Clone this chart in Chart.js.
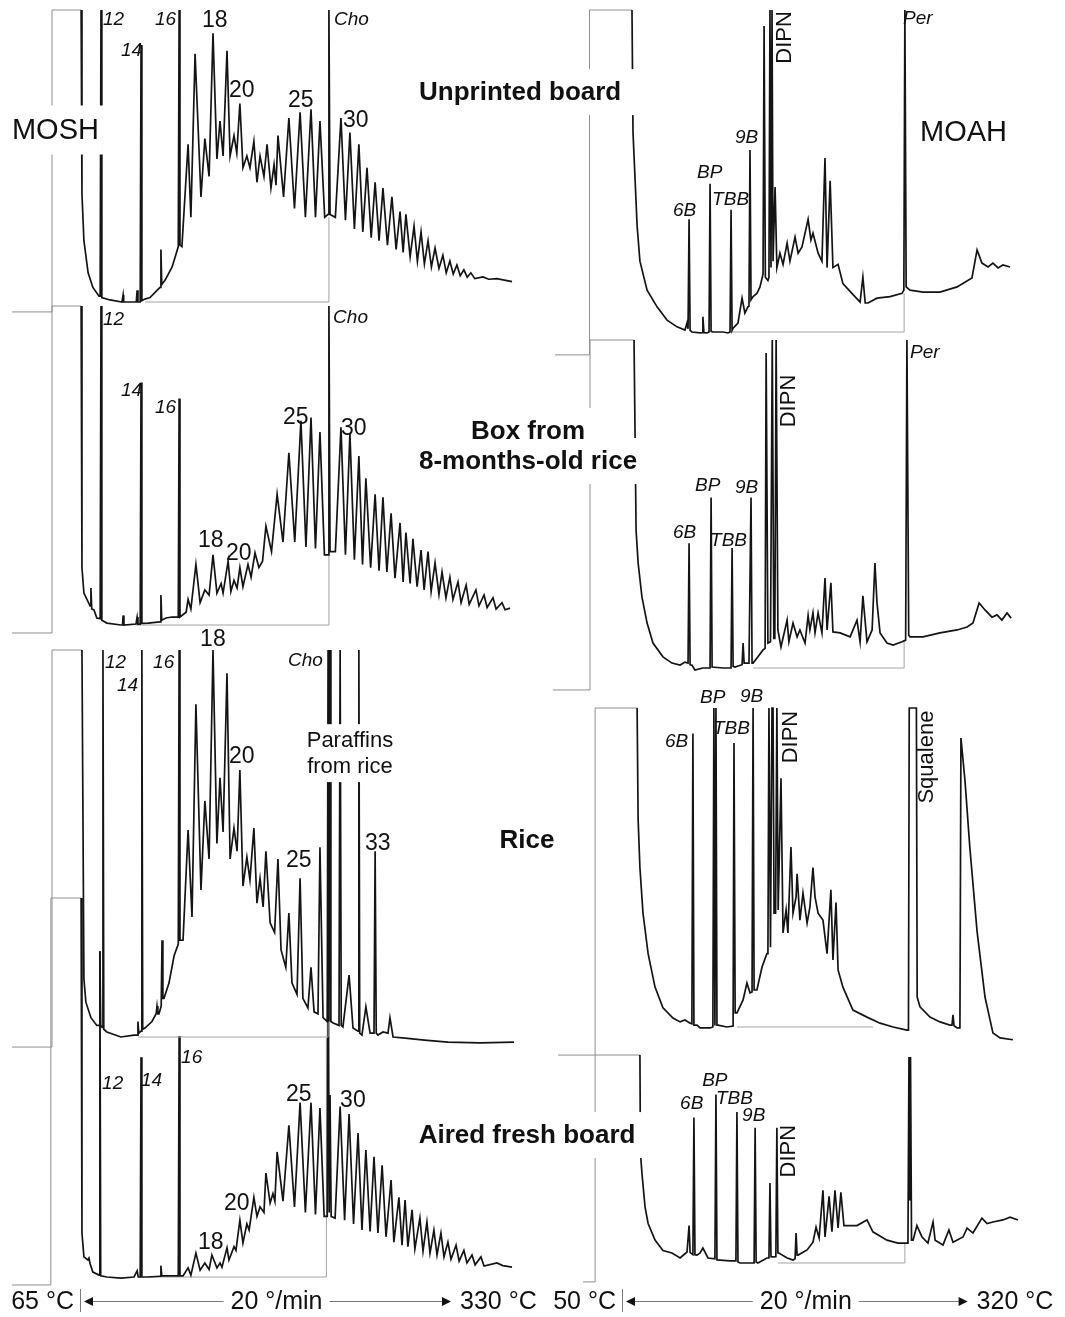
<!DOCTYPE html>
<html>
<head>
<meta charset="utf-8">
<title>MOSH / MOAH chromatograms</title>
<script src="https://cdn.jsdelivr.net/npm/chart.js@4.4.1/dist/chart.umd.min.js"></script>
<style>
  html, body { margin: 0; padding: 0; background: #fff; }
  #wrap { position: relative; width: 1065px; height: 1317px; overflow: hidden; }
  canvas { display: block; }
</style>
</head>
<body>
<div id="wrap"><canvas id="gc" width="1065" height="1317"></canvas></div>
<script>
// ---- traces: [retention time (min), signal (% of full scale)] ----
// MOSH, left column
const moshUnprinted = [[-2.43,-3.4],[-1.0,-3.4],[-1.0,100],[0.04,100],
  [0.07,37],[0.14,21],[0.29,10],[0.46,5],[0.68,2],[0.72,2],[0.75,100],[0.78,1.5],
  [1.07,0.7],[1.5,0],[1.52,0],[1.54,2.4],[1.56,0],[1.96,0],[2.01,0],[2.04,4],[2.07,0],
  [2.15,0],[2.18,88],[2.21,0.5],[2.32,1],[2.5,1.5],[2.75,4],[2.86,5],[2.89,18],[2.92,6],
  [3.04,7.5],[3.29,12],[3.45,17],[3.51,19],[3.54,100],[3.57,19.5],[3.64,19],
  [3.86,54],[3.96,29],[4.11,85],[4.32,36],[4.46,56],[4.61,43],[4.75,92],[4.89,49],
  [5.0,62],[5.11,50],[5.25,86],[5.36,50],[5.5,57],[5.6,51],[5.71,68],[5.82,46],
  [5.96,50],[6.07,46],[6.21,55],[6.32,41],[6.43,50],[6.57,43],[6.68,54],[6.82,39],
  [6.93,47],[7.0,40],[7.07,57],[7.27,36],[7.46,63],[7.66,32],[7.86,65],[8.05,29],
  [8.25,66],[8.41,29],[8.57,62],[8.74,29],[8.86,30],[8.89,100],[8.93,30],[9.12,29],
  [9.32,63],[9.48,28],[9.64,58],[9.8,25],[9.96,54],[10.1,24],[10.25,46],[10.4,22],
  [10.54,41],[10.68,21],[10.82,39],[10.98,19.5],[11.14,36],[11.29,18],[11.43,31],[11.54,17],
  [11.64,30],[11.79,15.5],[11.93,26],[12.05,14],[12.18,24],[12.3,13],[12.43,21],[12.55,12],
  [12.68,18.5],[12.82,11.5],[12.96,16],[13.08,10],[13.21,14],[13.33,9.6],[13.46,12.7],[13.58,9],
  [13.71,11],[13.83,8.5],[13.96,10],[14.1,8],[14.39,8.6],[14.6,7.8],[14.89,8],[15.2,7.4],[15.43,7]];

const moshRiceBox = [[-2.43,-2.5],[-1.0,-2.5],[-1.0,100],[0.04,100],
  [0.07,18],[0.14,10],[0.36,6],[0.39,11.6],[0.42,5],[0.5,4.7],[0.6,2.2],
  [0.72,2],[0.75,100],[0.78,1.5],[0.96,0.6],[1.46,0],[1.52,0],[1.54,3],[1.57,0],
  [2.0,0.3],[2.04,2.5],[2.07,0.3],[2.15,0.3],[2.18,76],[2.21,0.5],
  [2.43,0.6],[2.86,1],[2.89,9.4],[2.92,1.5],[3.07,2.2],[3.29,2.5],[3.51,2.5],[3.54,71],[3.57,2.5],
  [3.79,4],[3.86,8],[3.96,5],[4.14,19],[4.29,7],[4.46,11],[4.61,9.4],[4.75,22],[4.89,10],
  [5.04,13],[5.11,10],[5.29,20],[5.39,10.5],[5.5,14],[5.61,11.6],[5.71,18],[5.82,12],
  [6.0,19],[6.11,15],[6.25,22.6],[6.39,18],[6.52,20],[6.64,31],[6.84,23],[7.04,41],
  [7.25,26],[7.46,54],[7.67,26],[7.89,64],[8.07,24.5],[8.25,65],[8.41,24],[8.57,60.5],
  [8.73,22],[8.86,22],[8.89,100],[8.93,23],[9.12,23],[9.32,62],[9.48,22],[9.64,60],
  [9.8,20.5],[9.96,53],[10.09,19],[10.21,46],[10.38,18],[10.54,41],[10.68,17],[10.82,40],
  [10.96,16.6],[11.11,35],[11.25,14.7],[11.43,32],[11.54,13.5],[11.64,29],[11.79,13],[11.89,27],
  [12.04,12],[12.18,23.5],[12.29,11],[12.43,23],[12.54,10.5],[12.68,19.5],[12.82,9.5],[12.93,16.6],
  [13.07,8.5],[13.21,15],[13.32,8],[13.5,13.5],[13.61,7],[13.79,12.5],[13.9,6.5],[14.14,11],
  [14.25,6],[14.43,9.4],[14.54,5.5],[14.75,8.5],[14.86,5],[15.07,7],[15.18,4.8],[15.36,5.3]];

const moshRice = [[-2.43,-2.6],[-1.0,-2.6],[-1.0,100],[0.07,100],
  [0.14,15],[0.21,9],[0.39,5],[0.6,3],[0.68,3],[0.71,22],[0.74,3],
  [0.79,2.5],[0.82,100],[0.85,2],[0.96,1.3],[1.46,0],[1.93,0.5],[2.04,0.5],[2.07,4],[2.1,1],
  [2.18,1.5],[2.21,100],[2.24,2],[2.32,2.3],[2.57,4],[2.72,6],[2.75,8],[2.78,6],[2.82,6],
  [2.9,8],[2.93,25],[2.96,10],[3.0,10],[3.18,14],[3.36,21],[3.51,24],[3.54,100],[3.57,25],
  [3.68,25],[3.86,53.5],[4.0,31],[4.14,86],[4.32,38],[4.46,61],[4.61,46],[4.75,100],[4.89,50],
  [5.0,67],[5.11,53],[5.25,94],[5.36,46],[5.5,54],[5.61,48],[5.71,69],[5.82,39],
  [5.96,46.5],[6.07,40.6],[6.21,54],[6.32,34.6],[6.43,41],[6.54,33.6],[6.64,48],[6.79,29.5],
  [6.95,27],[7.07,46],[7.18,22.5],[7.35,18],[7.46,32],[7.57,14],[7.75,11],[7.86,41],
  [7.96,10],[8.14,7.5],[8.25,18],[8.36,6.5],[8.5,6],[8.57,49],[8.68,5],[8.83,4],
  [8.86,100],[8.89,4],[8.93,100],[8.96,4],[9.04,3.6],[9.25,3],[9.29,100],[9.33,3],[9.39,2.6],
  [9.61,16],[9.75,2.3],[9.93,1.5],[9.96,100],[9.99,1],[10.07,0.5],[10.21,7.8],[10.36,1],
  [10.5,1],[10.54,48],[10.58,1],[10.64,0.5],[10.82,1.3],[11.0,1],[11.07,5],[11.18,0],
  [11.61,-0.3],[12.3,-0.8],[13.14,-1.3],[14.3,-1.5],[15.5,-1.3]];

const moshAired = [[-2.43,-2.1],[-1.04,-2.1],[-1.04,100],[0.04,100],
  [0.07,11.6],[0.14,5.3],[0.28,4.5],[0.32,5],[0.36,3.5],[0.46,1.3],[0.68,0.5],[0.71,86],[0.74,0.3],
  [0.96,0],[1.46,-0.3],[1.93,0],[2.04,1.6],[2.08,0],[2.15,0],[2.18,58],[2.21,0],
  [2.43,0],[2.86,0.2],[2.89,3],[2.92,0.3],[3.18,0.3],[3.51,0.3],[3.54,63.6],[3.57,0.3],
  [3.68,0.3],[3.86,2.4],[3.96,0.5],[4.14,6.3],[4.29,1.8],[4.46,3.7],[4.61,2],[4.71,5.8],
  [4.89,2.4],[5.0,3.7],[5.07,2.6],[5.25,7.7],[5.32,4.5],[5.5,8],[5.57,7],[5.71,15],
  [5.82,9],[5.96,14],[6.04,12.4],[6.21,21],[6.32,16],[6.43,18.5],[6.57,17],[6.64,27.4],
  [6.79,19.5],[6.89,22],[6.96,20],[7.04,33],[7.25,20],[7.46,40],[7.66,18.5],[7.86,46],
  [8.05,17],[8.25,46],[8.41,16.5],[8.57,44.6],[8.72,16],[8.83,16],[8.86,100],[8.9,17],
  [8.93,48],[8.97,16],[9.11,15.5],[9.29,45],[9.45,15],[9.61,43],[9.77,14],[9.93,38],
  [10.07,12.4],[10.21,33.5],[10.36,12],[10.5,31.7],[10.64,11.6],[10.79,29.5],[10.93,10.6],[11.11,25.6],
  [11.21,9.2],[11.39,21],[11.5,8.4],[11.61,20.3],[11.71,8],[11.86,17.7],[11.96,7.4],[12.14,15.6],
  [12.25,6.8],[12.39,14.5],[12.5,6.3],[12.64,12.4],[12.75,5.8],[12.89,11.6],[13.0,5.3],[13.14,9.2],
  [13.25,4.7],[13.43,8.4],[13.54,4.2],[13.71,7],[13.82,3.7],[14.0,5.8],[14.11,3.2],[14.32,5.3],
  [14.43,2.9],[14.89,3.7],[15.1,3],[15.43,2.6]];

// MOAH, right column
const moahUnprinted = [[-2.62,-7.1],[-1.27,-7.1],[-1.27,100],[0.39,100],
  [0.43,62],[0.59,33],[0.7,22],[0.98,13],[1.37,7.8],[1.76,3.7],[2.15,1.6],[2.46,0.6],[2.54,2.8],[2.58,1],
  [2.62,35],[2.66,0.5],[2.73,0],[3.05,-0.3],[3.13,-0.2],[3.16,4.7],[3.2,-0.2],[3.32,-0.3],[3.4,0],
  [3.44,46],[3.48,0.2],[3.55,0],[3.95,0],[4.14,-0.3],[4.22,0],[4.26,38],[4.3,0.5],
  [4.34,1.2],[4.53,2.8],[4.69,10.5],[4.8,5.9],[4.92,7.8],[4.96,8],[5.0,56.5],[5.04,10],
  [5.12,11],[5.27,12],[5.39,14],[5.51,18],[5.55,95],[5.6,17],[5.7,16],[5.74,17],[5.78,100],
  [5.82,20],[5.86,100],[5.9,22],[5.98,45],[6.05,20],[6.17,24.5],[6.29,21],[6.45,27.6],
  [6.56,22],[6.76,29.5],[6.88,24.5],[7.03,26.4],[7.27,35],[7.38,28.6],[7.46,30.7],[7.66,24.5],
  [7.81,22],[7.93,54],[8.01,20],[8.13,47],[8.24,20],[8.44,21],[8.63,15],[8.98,12],
  [9.3,9.3],[9.41,17],[9.5,9],[9.61,9],[9.96,10.5],[10.47,11],[10.94,12],[11.01,13],
  [11.05,100],[11.1,14],[11.25,13],[11.76,12.4],[12.42,12.4],[13.09,14],[13.67,16.8],[13.87,25.5],
  [14.06,21.4],[14.3,20.2],[14.49,21.4],[14.69,19.9],[14.88,20.8],[15.16,20.2]];

const moahRiceBox = [[-2.7,-6.7],[-1.25,-6.7],[-1.25,100],[0.47,100],
  [0.55,42],[0.63,32],[0.78,21.6],[0.98,13.7],[1.21,7.6],[1.6,3.4],[1.95,1.5],[2.27,0.9],[2.46,1.8],[2.58,1.5],
  [2.62,38],[2.66,1],[2.73,0.9],[2.85,-0.6],[3.16,0],[3.44,0],[3.48,52],[3.52,0.3],
  [3.55,0.3],[3.95,0],[4.26,0],[4.3,36.6],[4.34,0.5],[4.41,0.3],[4.69,1],[4.73,7.6],[4.77,1.5],
  [4.96,1.5],[5.04,52],[5.08,1.5],[5.12,1.5],[5.31,3.4],[5.51,5.5],[5.59,6],[5.63,96],[5.7,7.6],
  [5.8,8],[5.87,100],[5.93,9],[5.97,9],[6.02,100],[6.09,11.6],[6.21,6.4],[6.45,14.6],
  [6.52,8],[6.68,13.7],[6.84,9.5],[6.95,11.6],[7.15,7.6],[7.27,16],[7.34,11.6],[7.46,16.8],
  [7.54,10.7],[7.66,16.8],[7.81,10.7],[7.93,27.4],[8.01,11.6],[8.16,26],[8.24,11],[8.52,10.7],
  [8.91,9.5],[9.18,14.6],[9.3,8],[9.41,22],[9.57,8],[9.77,11.6],[9.88,32],[9.96,20],
  [10.08,10.7],[10.35,7.6],[10.59,7],[10.94,8],[11.08,8.5],[11.13,100],[11.2,10],
  [11.25,9.5],[11.76,9.5],[12.42,10.7],[13.09,11.6],[13.48,12.5],[13.71,13.7],[13.95,19.8],
  [14.18,17.7],[14.45,15.5],[14.65,16.2],[14.84,14.6],[15.04,16.8],[15.2,15.2]];

const moahRice = [[-2.5,-8.8],[-1.05,-8.8],[-1.05,100],[0.59,100],
  [0.63,65],[0.7,50],[0.82,35.7],[1.02,23],[1.29,12.5],[1.6,6],[1.99,2.8],[2.27,1.6],[2.46,2.2],
  [2.66,1.2],[2.73,1],[2.77,92],[2.81,0.6],[2.93,0.6],[3.05,-0.3],[3.44,-0.3],[3.55,0],
  [3.59,100],[3.63,0.5],[3.67,100],[3.71,0.6],[3.75,0.6],[4.1,0],[4.34,0.3],[4.375,89],[4.42,4.4],
  [4.49,4.4],[4.73,8.5],[4.88,13.8],[5.0,10.7],[5.08,11],[5.12,100],[5.16,11.6],
  [5.27,11.6],[5.47,18.8],[5.66,23],[5.7,23],[5.74,100],[5.8,25],[5.86,100],[5.9,100],
  [5.94,35.7],[6.0,35.7],[6.05,100],[6.1,36.7],[6.21,78],[6.29,29.5],[6.41,36.7],[6.48,29.5],
  [6.6,56.4],[6.68,35.7],[6.8,40.8],[6.84,48],[6.95,33.5],[7.07,42],[7.23,32.6],[7.34,37.6],
  [7.46,50],[7.54,40.8],[7.66,35.7],[7.85,33.5],[8.01,23],[8.16,43],[8.24,21],[8.36,39],
  [8.44,17.9],[8.63,12.5],[9.02,5.3],[9.57,3.1],[10.08,1.2],[10.59,0],[11.13,-1],[11.19,-1],
  [11.22,100],[11.5,100],[11.53,9.4],[11.64,6.3],[12.03,3.1],[12.42,1.6],[12.81,0.6],
  [12.89,0.6],[12.93,3.8],[12.97,0.4],[13.09,-0.3],[13.2,-0.3],[13.24,90.6],[13.4,77],
  [13.59,56],[13.87,30],[14.18,9.4],[14.49,-1.9],[14.77,-3.4],[15.27,-4]];

const moahAired = [[-1.52,-9.1],[-1.05,-9.1],[-1.05,100],[0.7,100],
  [0.72,53],[0.78,43],[0.9,27],[1.02,19],[1.29,11],[1.6,6],[1.95,4.8],[2.27,2.4],[2.54,5.3],
  [2.62,18],[2.66,5],[2.77,4],[2.81,70],[2.85,4],[2.93,3.8],[3.05,4.8],[3.16,7.2],[3.36,2.4],
  [3.63,2],[3.67,81],[3.71,1.5],[3.83,1.4],[4.22,1],[4.45,1],[4.49,72.6],[4.53,0.5],
  [4.61,0],[4.92,0],[5.16,0],[5.2,65],[5.24,0.5],[5.31,0],[5.66,2.4],[5.74,2.4],[5.78,38.5],
  [5.82,3],[5.9,2.9],[6.01,3],[6.05,65],[6.09,4.8],[6.13,4.8],[6.45,2.4],[6.68,1.4],[6.76,2],
  [6.8,14.4],[6.84,3.8],[6.88,3.8],[7.23,6.3],[7.46,10],[7.58,17.3],[7.7,12],[7.85,35],
  [7.93,12.5],[8.09,32],[8.2,15],[8.32,35],[8.44,16.8],[8.55,34],[8.67,18],[9.18,18],
  [9.57,20.7],[9.8,15],[10.35,11],[10.78,9.6],[11.05,9.6],[11.17,9.6],[11.21,99],[11.24,30],
  [11.27,99],[11.31,11],[11.37,11],[11.52,18],[11.72,12.5],[11.95,9.6],[12.15,19.7],[12.23,11],
  [12.54,8.7],[12.77,15.9],[12.93,10],[13.32,12.5],[13.48,16.8],[13.71,14.4],[14.06,21.6],
  [14.26,19],[14.49,19.7],[14.88,20.7],[15.16,22],[15.47,20.7]];

// integration boxes (baseline under the hump up to the internal standard)
const boxUnprinted = [[2.32,0],[8.89,0],[8.89,29]];
const boxRiceBox = [[2.0,0],[8.89,0],[8.89,22]];
const boxRice = [[2.07,0],[8.86,0],[8.86,4]];
const boxAired = [[2.43,0],[8.8,0],[8.8,63]];
const boxMoahUnprinted = [[4.28,0],[11.02,0],[11.02,12]];
const boxMoahRiceBox = [[5.12,0],[11.02,0],[11.02,8.5]];
const boxMoahRice = [[4.49,0],[9.8,0]];
const boxMoahAired = [[6.09,0],[11.05,0],[11.05,9.6]];

// peak names: [text, time, signal]
const p1Std = [['12',0.82,97],['14',1.46,86.3],['16',2.68,97],['Cho',9.07,97]];
const p1Num = [['18',4.36,96.6],['20',5.32,72.6],['25',7.43,69.2],['30',9.39,62.3]];
const p2Std = [['12',0.82,95.9],['14',1.46,73.7],['16',2.68,68.3],['Cho',9.04,96.6]];
const p2Num = [['18',4.21,26.6],['20',5.21,22.6],['25',7.25,65.2],['30',9.32,61.8]];
const p3Std = [['12',0.89,96.9],['14',1.32,91],['16',2.61,96.9],['Cho',7.43,97.4]];
const p3Num = [['18',4.29,103],['20',5.32,72.6],['25',7.36,45.7],['33',10.18,50.1]];
const p3Note = [['Paraffins',9.64,76.7],['from rice',9.64,70]];
const p4Std = [['12',0.79,51.2],['14',2.18,52],['16',3.61,58]];
const p4Num = [['18',4.21,9.2],['20',5.14,19.5],['25',7.36,48.5],['30',9.29,46.7]];
const r1Std = [['6B',1.99,37.9],['BP',2.93,49.7],['TBB',3.52,41.3],['9B',4.41,60.6],['Per',10.98,97.5]];
const r2Std = [['6B',1.99,41.5],['BP',2.85,55.8],['TBB',3.44,39],['9B',4.41,55.2],['Per',11.25,96.3]];
const r3Std = [['6B',1.68,89.7],['BP',3.05,103.4],['TBB',3.55,93.7],['9B',4.61,104]];
const r4Std = [['6B',2.27,77],['BP',3.13,88],['TBB',3.67,79.3],['9B',4.69,71.2]];
const r1Vert = [['DIPN',6.31,91.5]];
const r2Vert = [['DIPN',6.48,81.4]];
const r3Vert = [['DIPN',6.56,90.9],['Squalene',11.86,84.6]];
const r4Vert = [['DIPN',6.48,53.8]];
const fractionNames = [['MOSH',-2.43,58.9]];
const moahName = [['MOAH',11.64,62.1]];
const sampleUnprinted = [['Unprinted board',-3.98,74.5]];
const sampleRiceBox = [['Box from',-3.67,72.3],['8-months-old rice',-3.67,63.1]];
const sampleRice = [['Rice',-3.71,58.6]];
const sampleAired = [['Aired fresh board',-3.71,61.5]];

// oven programmes
const moshOven = [65, 330];
const moahOven = [50, 320];
const ovenRate = [20];

// ---- layout ----
const W = 1065, H = 1317;
const FONT = '"Liberation Sans", Arial, Helvetica, sans-serif';
const colL = { zero: 80, perMin: 28 };
const colR = { zero: 622, perMin: 25.6 };
// pixel row of the 0 % baseline and pixel height of 100 % for each trace
const frames = {
  yP1: [302, 292], yP2: [625, 319], yP3: [1037, 387], yP4: [1277, 379],
  yR1: [332, 322], yR2: [668, 328], yR3: [1027, 319], yR4: [1263, 208]
};
const ink = '#141414';

function colAxis(col) {
  return { type: 'linear', axis: 'x', position: 'bottom', display: false, bounds: 'data',
    min: -col.zero / col.perMin, max: (W - col.zero) / col.perMin };
}
function frameAxis(id) {
  const [base, span] = frames[id];
  return { type: 'linear', axis: 'y', position: 'left', display: false, bounds: 'data',
    min: -(H - base) / span * 100, max: base / span * 100 };
}

function trace(data, x, y) {
  return {
    data, xAxisID: x, yAxisID: y, showLine: true,
    borderColor: ink, borderWidth: 1.7, pointRadius: 0, pointHoverRadius: 0,
    // the solvent step at the start is drawn lighter
    segment: {
      borderColor: c => (c.p0DataIndex < 3 ? '#8e8e8e' : undefined),
      borderWidth: c => (c.p0DataIndex < 3 ? 1 : undefined)
    }
  };
}
function boxLine(data, x, y) {
  return { data, xAxisID: x, yAxisID: y, showLine: true, borderColor: '#a3a3a3',
    borderWidth: 1, pointRadius: 0, pointHoverRadius: 0 };
}

const italic = `italic 19px ${FONT}`;
const numFont = `23px ${FONT}`;
const vertFont = `22px ${FONT}`;
const sampleFont = `bold 26px ${FONT}`;
const bigFont = `29px ${FONT}`;

const tagGroups = [
  { items: p1Std, x: 'xL', y: 'yP1', font: italic },
  { items: p1Num, x: 'xL', y: 'yP1', font: numFont },
  { items: p2Std, x: 'xL', y: 'yP2', font: italic },
  { items: p2Num, x: 'xL', y: 'yP2', font: numFont },
  { items: p3Std, x: 'xL', y: 'yP3', font: italic },
  { items: p3Num, x: 'xL', y: 'yP3', font: numFont },
  { items: p3Note, x: 'xL', y: 'yP3', font: `22px ${FONT}`, align: 'center', pad: [5, 5] },
  { items: p4Std, x: 'xL', y: 'yP4', font: italic },
  { items: p4Num, x: 'xL', y: 'yP4', font: numFont },
  { items: r1Std, x: 'xR', y: 'yR1', font: italic },
  { items: r2Std, x: 'xR', y: 'yR2', font: italic },
  { items: r3Std, x: 'xR', y: 'yR3', font: italic },
  { items: r4Std, x: 'xR', y: 'yR4', font: italic },
  { items: r1Vert, x: 'xR', y: 'yR1', font: vertFont, rotate: true },
  { items: r2Vert, x: 'xR', y: 'yR2', font: vertFont, rotate: true },
  { items: r3Vert, x: 'xR', y: 'yR3', font: vertFont, rotate: true },
  { items: r4Vert, x: 'xR', y: 'yR4', font: vertFont, rotate: true },
  { items: fractionNames, x: 'xL', y: 'yP1', font: bigFont, pad: [4, 10] },
  { items: moahName, x: 'xR', y: 'yR1', font: bigFont },
  { items: sampleUnprinted, x: 'xR', y: 'yR1', font: sampleFont, align: 'center', pad: [14, 10] },
  { items: sampleRiceBox, x: 'xR', y: 'yR2', font: sampleFont, align: 'center', pad: [14, 10] },
  { items: sampleRice, x: 'xR', y: 'yR3', font: sampleFont, align: 'center', pad: [14, 10] },
  { items: sampleAired, x: 'xR', y: 'yR4', font: sampleFont, align: 'center', pad: [14, 10] }
];

const tagPlugin = {
  id: 'tags',
  afterDatasetsDraw(chart) {
    const c = chart.ctx, s = chart.scales;
    c.save();
    c.textBaseline = 'middle';
    // white boxes first so lines are hidden behind the big labels
    tagGroups.filter(g => g.pad).forEach(g => {
      c.font = g.font;
      const size = parseFloat(g.font.match(/(\d+)px/)[1]);
      g.items.forEach(([txt, t, v]) => {
        const x = s[g.x].getPixelForValue(t), y = s[g.y].getPixelForValue(v);
        const w = c.measureText(txt).width;
        const left = g.align === 'center' ? x - w / 2 : x;
        c.fillStyle = '#fff';
        c.fillRect(left - g.pad[0], y - size / 2 - g.pad[1], w + 2 * g.pad[0], size + 2 * g.pad[1]);
      });
    });
    c.fillStyle = '#111';
    tagGroups.forEach(g => {
      c.font = g.font;
      g.items.forEach(([txt, t, v]) => {
        const x = s[g.x].getPixelForValue(t), y = s[g.y].getPixelForValue(v);
        if (g.rotate) {
          c.save();
          c.translate(x, y);
          c.rotate(-Math.PI / 2);
          c.textAlign = 'center';
          c.fillText(txt, 0, 1);
          c.restore();
        } else {
          c.textAlign = g.align || 'left';
          c.fillText(txt, x, y + 1);
        }
      });
    });
    c.restore();
  }
};

// temperature programme arrows under each column
const rampPlugin = {
  id: 'ramp',
  afterDatasetsDraw(chart) {
    const c = chart.ctx;
    const y = chart.chartArea.bottom - 16;
    [['xL', moshOven], ['xR', moahOven]].forEach(([id, temps]) => {
      const sc = chart.scales[id];
      const rate = ovenRate[0];
      const x0 = sc.getPixelForValue(0);
      const x1 = sc.getPixelForValue((temps[1] - temps[0]) / rate);
      c.save();
      c.strokeStyle = '#7a7a7a';
      c.lineWidth = 1;
      c.beginPath(); c.moveTo(x0 + 0.5, y - 12); c.lineTo(x0 + 0.5, y + 11); c.stroke();
      c.beginPath(); c.moveTo(x0 + 12, y + 0.5); c.lineTo(x1 - 8, y + 0.5); c.stroke();
      c.fillStyle = '#111';
      c.beginPath(); c.moveTo(x0 + 4, y + 0.5); c.lineTo(x0 + 13, y - 4); c.lineTo(x0 + 13, y + 5); c.fill();
      c.beginPath(); c.moveTo(x1, y + 0.5); c.lineTo(x1 - 9, y - 4); c.lineTo(x1 - 9, y + 5); c.fill();
      c.font = `25px ${FONT}`;
      c.textBaseline = 'middle';
      const rateTxt = `${rate} °/min`;
      const mid = (x0 + x1) / 2 + 11;
      const w = c.measureText(rateTxt).width;
      c.fillStyle = '#fff';
      c.fillRect(mid - w / 2 - 7, y - 10, w + 14, 20);
      c.fillStyle = '#111';
      c.textAlign = 'center'; c.fillText(rateTxt, mid, y + 1);
      c.textAlign = 'right'; c.fillText(`${temps[0]} °C`, x0 - 6, y + 1);
      c.textAlign = 'left'; c.fillText(`${temps[1]} °C`, x1 + 9, y + 1);
      c.restore();
    });
  }
};

const datasets = [
  trace(moshUnprinted, 'xL', 'yP1'), boxLine(boxUnprinted, 'xL', 'yP1'),
  trace(moshRiceBox, 'xL', 'yP2'), boxLine(boxRiceBox, 'xL', 'yP2'),
  trace(moshRice, 'xL', 'yP3'), boxLine(boxRice, 'xL', 'yP3'),
  trace(moshAired, 'xL', 'yP4'), boxLine(boxAired, 'xL', 'yP4'),
  trace(moahUnprinted, 'xR', 'yR1'), boxLine(boxMoahUnprinted, 'xR', 'yR1'),
  trace(moahRiceBox, 'xR', 'yR2'), boxLine(boxMoahRiceBox, 'xR', 'yR2'),
  trace(moahRice, 'xR', 'yR3'), boxLine(boxMoahRice, 'xR', 'yR3'),
  trace(moahAired, 'xR', 'yR4'), boxLine(boxMoahAired, 'xR', 'yR4')
];

const scales = { xL: colAxis(colL), xR: colAxis(colR) };
Object.keys(frames).forEach(id => { scales[id] = frameAxis(id); });

new Chart(document.getElementById('gc'), {
  type: 'scatter',
  data: { datasets },
  options: {
    responsive: false,
    animation: false,
    events: [],
    layout: { padding: 0 },
    plugins: { legend: { display: false }, tooltip: { enabled: false } },
    elements: { line: { tension: 0 }, point: { radius: 0 } },
    scales
  },
  plugins: [tagPlugin, rampPlugin]
});
</script>
</body>
</html>
